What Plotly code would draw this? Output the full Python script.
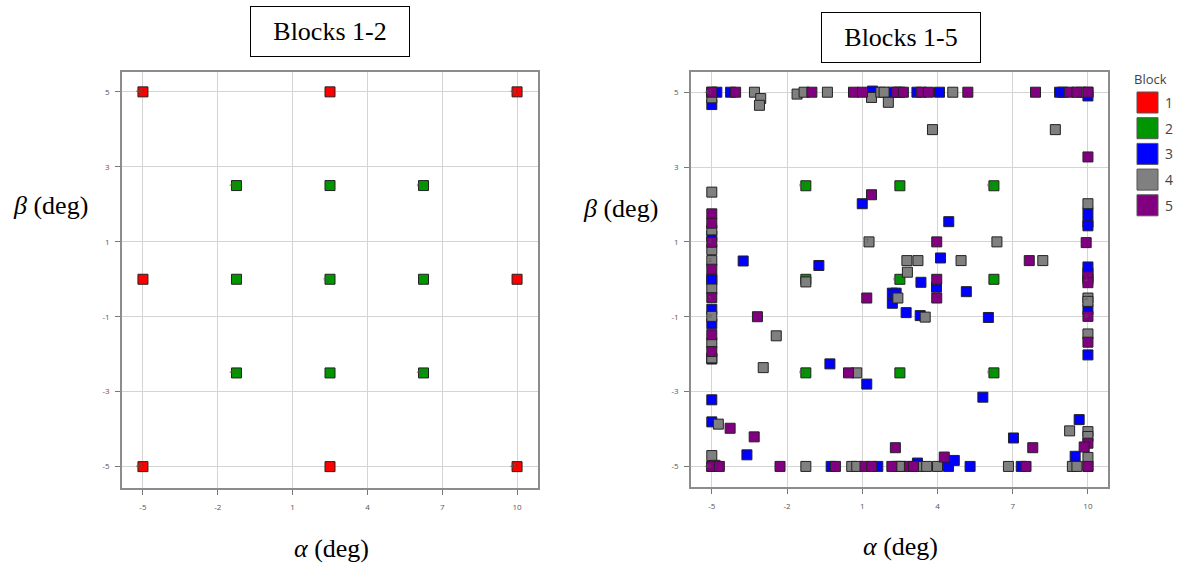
import plotly.graph_objects as go

W, H = 1177, 565

# ---------------- data ----------------
block_names = ["1", "2", "3", "4", "5"]
block_colors = ["#ff0000", "#009600", "#0000ff", "#808080", "#800080"]

b1_x = [-5, 2.5, 10, -5, 10, -5, 2.5, 10]
b1_y = [5, 5, 5, 0, 0, -5, -5, -5]

b2_x = [-1.25, 2.5, 6.25, -1.25, 2.5, 6.25, -1.25, 2.5, 6.25]
b2_y = [2.5, 2.5, 2.5, 0, 0, 0, -2.5, -2.5, -2.5]

b3_x = [-4.8, -5, -4.25, 1.41, 2.2, 3.18, 4.08, 8.87, 9.0, 10,
        1.0, 4.45,
        -5, -5, -5, -5, -5, -5, -5, -3.6,
        -0.24, 1.62, 3.2, 4.44, 4.67, 5.3, 7.34, 7.03, 9.65, 9.49,
        10, 10, 10, 10, 10, 10, 10,
        -3.75, -0.73, 4.12, 3.34, 3.96, 5.15, 2.2, 2.35, 2.2, 2.75, 3.31, 6.03, -0.29, 1.18, 5.81]
b3_y = [5, 4.67, 5, 5.03, 5, 5, 5, 5, 5, 4.9,
        2.02, 1.54,
        1.16, -0.01, -0.8, -1.19, -2.13, -3.22, -3.81, -4.69,
        -5, -5, -4.91, -5, -4.84, -5, -5, -4.24, -3.75, -4.73,
        1.78, 1.52, 1.43, 0.33, 0.18, -0.81, -2.02,
        0.49, 0.37, 0.57, -0.08, -0.21, -0.33, -0.37, -0.37, -0.64, -0.89, -0.97, -1.02, -2.26, -2.8, -3.15]

b4_x = [-5, -3.3, -3.05, -3.1, -1.6, -1.32, -0.39, 1.37, 1.74, 1.87, 2.04, 4.61, 3.8, 8.7, 9.72,
        -5, -5, -5, -5, -5, -5, -5, -5,
        -4.74, -5, -4.87,
        -1.25, 0.58, 0.78, 2.38, 2.55, 3.25, 3.57, 4.0, 6.83, 9.38, 9.56,
        10, 10, 10, 9.27,
        10, 10, 10, 10,
        1.27, 6.37, 2.78, 3.22, 4.94, 8.2, 2.8, -1.25, 2.42, 3.51, -2.43, -2.95, 0.78]
b4_y = [4.85, 5, 4.83, 4.65, 4.95, 5, 5, 4.86, 5, 5, 4.73, 5, 4.0, 4.0, 5,
        2.33, 1.32, 0.79, 0.5, -0.26, -0.99, -1.7, -2.1,
        -3.87, -4.71, -4.97,
        -5, -5, -5, -5, -5, -5, -5, -5, -5, -5, -5,
        -4.76, -4.07, -4.2, -4.05,
        2.02, -0.5, -0.59, -1.46,
        1.0, 1.0, 0.5, 0.5, 0.5, 0.5, 0.19, -0.07, -0.5, -1.01, -1.51, -2.36, -2.5]

b5_x = [-5, -4.05, -1.01, 0.65, 1.01, 2.38, 2.64, 3.35, 3.64, 5.21, 7.91, 9.26, 9.56, 10, 10,
        1.37,
        -5, -5, -5, -5, -5, -5, -5,
        -4.27, -3.31, -5, -4.7, -2.28, -0.07, 1.11, 1.38, 2.18, 2.88, 3.04, 4.27, 7.53, 10,
        2.32, 7.8, 10, 9.85,
        9.93, 10, 10, 10, 10,
        3.97, 7.66, 3.97, 1.18, 3.97, -3.18, 0.45]
b5_y = [5, 5, 5, 5, 5, 5, 5, 5, 5, 5, 5, 5, 5, 5, 3.27,
        2.26,
        1.75, 1.5, 0.99, 0.27, -0.49, -1.48, -1.93,
        -3.98, -4.21, -5, -5, -5, -5, -5, -5, -5, -5, -5, -4.75, -5, -5,
        -4.5, -4.5, -4.38, -4.48,
        0.98, 0.07, -0.09, -0.99, -1.68,
        1.0, 0.5, 0.0, -0.5, -0.5, -1.0, -2.5]

# small run labels
lab_left_x = [-5, 10, -1.25, 6.25, 2.5, -1.25, 6.25, -5, 10]
lab_left_y = [5, 5, 2.5, 2.5, 0, -2.5, -2.5, -5, -5]
lab_left_t = ["46", "42", "46", "67", "60", "40", "46", "40", "45"]

lab_right_x = [-5, -1.25, 6.25, 2.5, 1.27, -5, -5, -5, -5, -1.25, 6.25, -5, 10, 10, 10]
lab_right_y = [5, 2.5, 2.5, 0, 1, 1, 0.5, -0.5, -1, -2.5, -2.5, -5, 0, -0.5, -1]
lab_right_t = ["40", "61", "62", "60", "7", "2", "2", "5", "0", "62", "65", "46", "2", "2", "9"]

x_ticks = [-5, -2, 1, 4, 7, 10]
y_ticks = [-5, -3, -1, 1, 3, 5]

# ---------------- figure ----------------
fig = go.Figure()

def add_block(x, y, color, xa, ya):
    fig.add_trace(go.Scatter(
        x=x, y=y, mode="markers", xaxis=xa, yaxis=ya, showlegend=False,
        marker=dict(symbol="square", size=10, color=color,
                    line=dict(color="#222222", width=1)),
        hoverinfo="x+y"))

# left panel: blocks 1-2
add_block(b1_x, b1_y, block_colors[0], "x", "y")
add_block(b2_x, b2_y, block_colors[1], "x", "y")
fig.add_trace(go.Scatter(x=lab_left_x, y=lab_left_y, text=lab_left_t, mode="text",
                         textposition="middle left", xaxis="x", yaxis="y", showlegend=False,
                         textfont=dict(size=6, color="#555555", family="Open Sans"),
                         hoverinfo="skip"))

# right panel: blocks 1-5
for bx, by, c in [(b1_x, b1_y, block_colors[0]), (b2_x, b2_y, block_colors[1]),
                  (b3_x, b3_y, block_colors[2]), (b4_x, b4_y, block_colors[3]),
                  (b5_x, b5_y, block_colors[4])]:
    add_block(bx, by, c, "x2", "y2")
fig.add_trace(go.Scatter(x=lab_right_x, y=lab_right_y, text=lab_right_t, mode="text",
                         textposition="middle left", xaxis="x2", yaxis="y2", showlegend=False,
                         textfont=dict(size=6, color="#555555", family="Open Sans"),
                         hoverinfo="skip"))

def px_x(p):
    return p / W

def px_y(p):
    return 1 - p / H

axis_common = dict(
    showgrid=True, gridcolor="#d4d4d4", gridwidth=1,
    showline=True, linecolor="#8c8c8c", linewidth=1.5, mirror=True,
    ticks="outside", ticklen=5, tickcolor="#777777", tickwidth=1,
    tickfont=dict(size=8, color="#555555", family="Open Sans"),
    zeroline=False, fixedrange=True,
)

fig.update_layout(
    width=W, height=H,
    margin=dict(l=0, r=0, t=0, b=0),
    paper_bgcolor="white", plot_bgcolor="white",
    xaxis=dict(domain=[px_x(122), px_x(538)], range=[-5.84, 10.84],
               tickvals=x_ticks, ticktext=[str(v) for v in x_ticks], anchor="y",
               ticklabelstandoff=6, **axis_common),
    yaxis=dict(domain=[px_y(488), px_y(72)], range=[-5.57, 5.53],
               tickvals=y_ticks, ticktext=[str(v) for v in y_ticks], anchor="x",
               ticklabelstandoff=4, **axis_common),
    xaxis2=dict(domain=[px_x(691), px_x(1108)], range=[-5.83, 10.8],
                tickvals=x_ticks, ticktext=[str(v) for v in x_ticks], anchor="y2",
                ticklabelstandoff=6, **axis_common),
    yaxis2=dict(domain=[px_y(487), px_y(72)], range=[-5.55, 5.54],
                tickvals=y_ticks, ticktext=[str(v) for v in y_ticks], anchor="x2",
                ticklabelstandoff=4, **axis_common),
)

serif = "Liberation Serif"
ann = []
# boxed titles
for txt, cx, cy in [("Blocks 1-2", 330, 31), ("Blocks 1-5", 901, 37)]:
    ann.append(dict(text=txt, x=px_x(cx), y=px_y(cy), xref="paper", yref="paper",
                    showarrow=False, xanchor="center", yanchor="middle",
                    width=156, height=47, bordercolor="#000000", borderwidth=1,
                    bgcolor="white", font=dict(family=serif, size=26, color="#000000")))
# axis titles
for cx, cy in [(331, 548), (900, 546)]:
    ann.append(dict(text="<i>α</i> (deg)", x=px_x(cx), y=px_y(cy), xref="paper", yref="paper",
                    showarrow=False, xanchor="center", yanchor="middle",
                    font=dict(family=serif, size=26, color="#000000")))
for cx, cy in [(50, 205), (620, 208)]:
    ann.append(dict(text="<i>β</i> (deg)", x=px_x(cx), y=px_y(cy), xref="paper", yref="paper",
                    showarrow=False, xanchor="center", yanchor="middle",
                    font=dict(family=serif, size=26, color="#000000")))

# legend (drawn)
ann.append(dict(text="Block", x=px_x(1150), y=px_y(79), xref="paper", yref="paper",
                showarrow=False, xanchor="center", yanchor="middle",
                font=dict(family="Open Sans", size=13, color="#444444")))
shapes = []
for i, (nm, c) in enumerate(zip(block_names, block_colors)):
    top = 92 + i * 25.7
    shapes.append(dict(type="rect", xref="paper", yref="paper",
                       x0=px_x(1137), x1=px_x(1158), y0=px_y(top + 21), y1=px_y(top),
                       fillcolor=c, line=dict(color="#555555", width=1)))
    ann.append(dict(text=nm, x=px_x(1163), y=px_y(top + 10.5), xref="paper", yref="paper",
                    showarrow=False, xanchor="left", yanchor="middle",
                    font=dict(family="Open Sans", size=14, color="#444444")))

fig.update_layout(annotations=ann, shapes=shapes)

fig.write_html("out.html")
